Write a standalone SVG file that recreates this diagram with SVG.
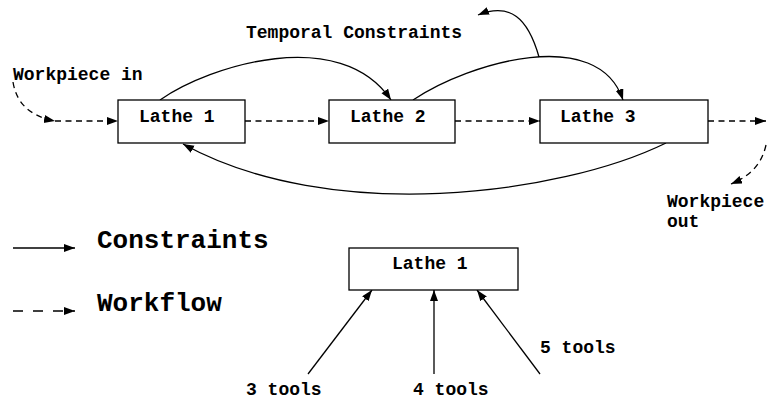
<svg xmlns="http://www.w3.org/2000/svg" width="767" height="401" viewBox="0 0 767 401">
  <style>
    .box { fill: #ffffff; stroke: #000000; stroke-width: 1.3; }
    .lbl { font-family: "Liberation Mono", "Courier New", monospace; font-weight: bold; font-size: 18px; fill: #000000; }
    .big { font-family: "Liberation Mono", "Courier New", monospace; font-weight: bold; font-size: 26px; fill: #000000; }
    .solid { fill: none; stroke: #000000; stroke-width: 1.3; marker-end: url(#arrow); }
    .dash { fill: none; stroke: #000000; stroke-width: 1.3; stroke-dasharray: 6 4.5; marker-end: url(#arrow); }
    .dashwide { fill: none; stroke: #000000; stroke-width: 1.3; stroke-dasharray: 10 10; marker-end: url(#arrow); }
  </style>
  <defs>
    <marker id="arrow" markerUnits="userSpaceOnUse" markerWidth="12" markerHeight="10" refX="11" refY="4" orient="auto">
      <path d="M0,0 L11,4 L0,8 Z" fill="#000000"/>
    </marker>
  </defs>
  <rect width="767" height="401" fill="#ffffff"/>

  <!-- connectors -->
  <g id="connectors">
    <!-- workflow -->
    <path class="dash" d="M13,82 Q18,114 55,121"/>
    <path class="dash" d="M55,121 L118,121"/>
    <path class="dash" d="M245,121 L329,121"/>
    <path class="dash" d="M455,121 L540,121"/>
    <path class="dash" d="M708,121 L766,121"/>
    <path class="dash" d="M766,145 C762,163 752,175 731,184"/>
    <!-- temporal constraints -->
    <path class="solid" d="M160,100 C210,65 340,25 391,100"/>
    <path class="solid" d="M413,100 C470,62 598,25 623,100"/>
    <path class="solid" d="M539,57 C528,18 510,2 478,15"/>
    <path class="solid" d="M666,143 C560,195 330,225 183,144"/>
    <!-- tool constraints -->
    <path class="solid" d="M308,374 L372,290"/>
    <path class="solid" d="M434,374 L434,290"/>
    <path class="solid" d="M540,374 L477,290"/>
    <!-- legend -->
    <path class="solid" d="M13,248 L75,248"/>
    <path class="dashwide" d="M13,311 L75,311"/>
  </g>

  <g id="lathe1">
    <rect class="box" x="118" y="100" width="127" height="43"/>
    <text class="lbl" x="139" y="122">Lathe 1</text>
  </g>
  <g id="lathe2">
    <rect class="box" x="329" y="100" width="126" height="43"/>
    <text class="lbl" x="350" y="122">Lathe 2</text>
  </g>
  <g id="lathe3">
    <rect class="box" x="540" y="100" width="168" height="43"/>
    <text class="lbl" x="560" y="122">Lathe 3</text>
  </g>
  <g id="lathe1-tools">
    <rect class="box" x="349" y="248" width="169" height="42"/>
    <text class="lbl" x="392" y="269">Lathe 1</text>
  </g>

  <g id="labels">
    <text class="lbl" x="246" y="38">Temporal Constraints</text>
    <text class="lbl" x="13" y="80">Workpiece in</text>
    <text class="lbl" x="667" y="207">Workpiece</text>
    <text class="lbl" x="667" y="227">out</text>
    <text class="lbl" x="246" y="395">3 tools</text>
    <text class="lbl" x="413" y="395">4 tools</text>
    <text class="lbl" x="540" y="353">5 tools</text>
    <text class="big" x="97" y="248">Constraints</text>
    <text class="big" x="97" y="311">Workflow</text>
  </g>
</svg>
